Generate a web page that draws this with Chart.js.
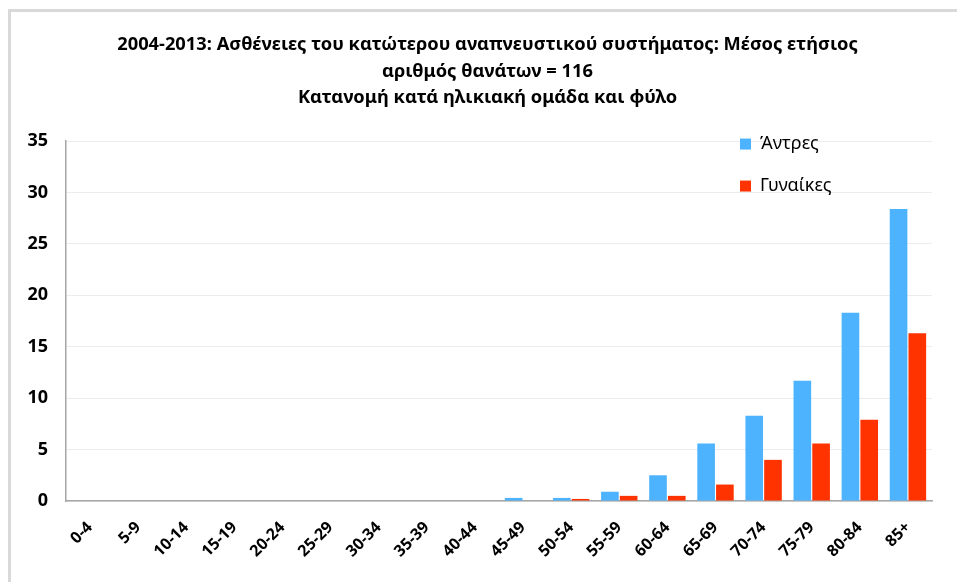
<!DOCTYPE html>
<html>
<head>
<meta charset="utf-8">
<script src="https://cdn.jsdelivr.net/npm/chart.js@4"></script>
<style>
  html, body { margin: 0; padding: 0; background: #fff; }
  #frame {
    position: absolute; left: 8px; top: 9px;
    width: 946px; height: 570px;
    border-left: 3px solid #d9d9d9; border-top: 3px solid #d9d9d9;
  }
  #frame canvas { display: block; }
</style>
</head>
<body>
<div id="frame"><canvas id="deaths" width="946" height="570"></canvas></div>
<script>
// age groups and mean yearly deaths per group
const ageGroups = ["0-4","5-9","10-14","15-19","20-24","25-29","30-34","35-39","40-44",
                   "45-49","50-54","55-59","60-64","65-69","70-74","75-79","80-84","85+"];
const men   = [0, 0, 0, 0, 0, 0, 0, 0, 0, 0.3, 0.3, 0.9, 2.5, 5.6, 8.3, 11.7, 18.3, 28.4];
const women = [0, 0, 0, 0, 0, 0, 0, 0, 0, 0, 0.2, 0.5, 0.5, 1.6, 4.0, 5.6, 7.9, 16.3];
const yTicks = [0, 5, 10, 15, 20, 25, 30, 35];

const titleLines = [
  "2004-2013: Ασθένειες του κατώτερου αναπνευστικού συστήματος: Μέσος ετήσιος",
  "αριθμός θανάτων = 116",
  "Κατανομή κατά ηλικιακή ομάδα και φύλο"
];

const FONT = "'Noto Sans', sans-serif";

// legend sits inside the plot area, to the right; title centred over the plot
const placeBoxes = {
  id: "placeBoxes",
  afterLayout(chart) {
    const lg = chart.legend;
    lg.left = 705;
    lg.top = chart.chartArea.top - 30;
    chart.titleBlock.left = 32;
  }
};

new Chart(document.getElementById("deaths"), {
  type: "bar",
  data: {
    labels: ageGroups,
    datasets: [
      { label: "Άντρες", data: men, backgroundColor: "#4db3ff", borderWidth: 0 },
      { label: "Γυναίκες", data: women, backgroundColor: "#ff3300", borderWidth: 0 }
    ]
  },
  options: {
    responsive: false,
    animation: false,
    layout: { padding: { top: 0, right: 25, bottom: 0, left: 0 } },
    datasets: { bar: { categoryPercentage: 0.78, barPercentage: 0.94 } },
    plugins: {
      title: {
        display: true,
        text: titleLines,
        color: "#000",
        font: { family: FONT, size: 18.3, weight: "bold", lineHeight: 1.44 },
        padding: { top: 20, bottom: 30 }
      },
      legend: {
        position: "chartArea",
        align: "start",
        labels: {
          color: "#000",
          font: { family: FONT, size: 18 },
          boxWidth: 11, boxHeight: 11,
          padding: 24
        }
      },
      tooltip: { enabled: false }
    },
    scales: {
      x: {
        grid: { display: false },
        border: { color: "#a6a6a6", width: 1.5 },
        ticks: {
          color: "#000",
          font: { family: FONT, size: 16, weight: "bold" },
          minRotation: 45, maxRotation: 45, padding: 9
        },
        afterFit(scale) { scale.height = 81; }
      },
      y: {
        min: 0, max: 35,
        afterBuildTicks(scale) { scale.ticks = yTicks.map(v => ({ value: v })); },
        grid: { color: "#ececec", drawTicks: false },
        border: { color: "#a6a6a6", width: 1.5 },
        ticks: {
          color: "#000",
          font: { family: FONT, size: 18, weight: "bold" },
          padding: 18
        },
        afterFit(scale) { scale.width = 55; }
      }
    }
  },
  plugins: [placeBoxes]
});
</script>
</body>
</html>
